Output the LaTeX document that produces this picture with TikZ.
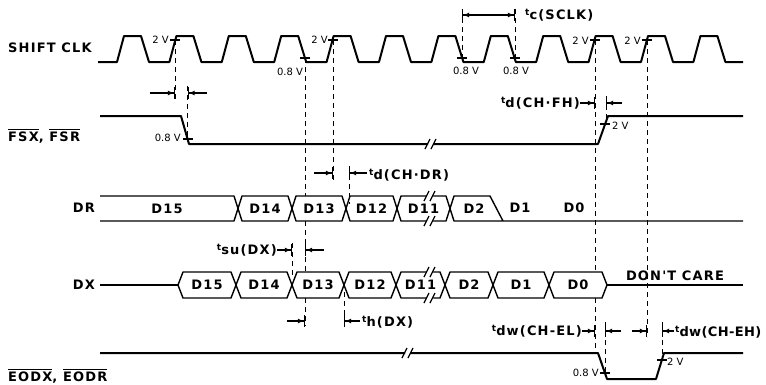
\documentclass[tikz,border=0pt]{standalone}
\usepackage{fontspec}
\newfontfamily\sigfont[LetterSpace=9]{DejaVu Sans Bold}
\newfontfamily\voltfont{DejaVu Sans}
\usetikzlibrary{arrows.meta}
\newcommand{\tpar}[1]{\raisebox{4pt}{\fontsize{9}{9}\selectfont t}#1}
\newcommand{\negsig}[1]{$\overline{\mbox{\raisebox{0pt}[11.5pt]{#1}}}$}
\begin{document}
\begin{tikzpicture}[x=1pt,y=-1pt,
	sig/.style={line width=2pt,line join=round},
	bus/.style={line width=1.4pt,line join=round},
	guide/.style={line width=0.9pt,dash pattern=on 5pt off 4pt},
	dim/.style={line width=1.2pt,-{Latex[length=6pt,width=5pt]Bar[width=12pt]}},
	vmark/.style={line width=1.2pt},
	lbl/.style={font=\sigfont\fontsize{13}{15}\selectfont,inner sep=0pt},
	volt/.style={font=\voltfont\fontsize{10}{11}\selectfont,inner sep=0pt}]
	\useasboundingbox (0,0) rectangle (766,384);
	% signal names
	\node[lbl,anchor=west] (nclk) at (8,48) {SHIFT CLK};
	\node[lbl,anchor=west] (nfs) at (8,136) {\negsig{FSX}, \negsig{FSR}};
	\node[lbl,anchor=east] (ndr) at (95,208) {DR};
	\node[lbl,anchor=east] (ndx) at (95,285) {DX};
	\node[lbl,anchor=west] (neod) at (8,376) {\negsig{EODX}, \negsig{EODR}};
	% shift clock
	\draw[sig] (98,62) \foreach \k in {0,...,11}{ -- ({117+52.4*\k},62) -- ({124+52.4*\k},36) -- ({141+52.4*\k},36) -- ({149+52.4*\k},62)} -- (743,62);
	% FSX, FSR
	\draw[sig] (100,116) -- (181,116) -- (189,144) -- (428,144) (433,144) -- (598,144) -- (608,116) -- (743,116);
	\draw[line width=1.2pt] (425,149) -- (430,139) (431,149) -- (436,139);
	% DR
	\draw[bus] (100,196) -- (234,196) -- (238,208.5) -- (234,221) -- (100,221);
	\node[lbl] (dr-D15) at (167,208.5) {D15};
	\foreach \a/\b/\n in {238/292/D14, 292/346/D13, 346/397/D12, 397/450/D11}{
		\draw[bus] (\a,208.5) -- (\a+4,196) -- (\b-4,196) -- (\b,208.5) -- (\b-4,221) -- (\a+4,221) -- cycle;
		\node[lbl] (dr-\n) at ({(\a+\b)/2},208.5) {\n};
	}
	\draw[bus] (450,208.5) -- (454,196) -- (490,196) -- (503,221) (450,208.5) -- (454,221) -- (743,221);
	\node[lbl] (dr-D2) at (474,208.5) {D2};
	\node[lbl] (dr-D1) at (520,208) {D1};
	\node[lbl] (dr-D0) at (574,208) {D0};
	\fill[white] (427,189) rectangle (433,203) (427,214) rectangle (433,228);
	\draw[line width=1.2pt] (424,201) -- (429,191) (430,201) -- (435,191) (424,226) -- (429,216) (430,226) -- (435,216);
	% DX
	\draw[bus] ([xshift=5pt]ndx.east) -- (178,285);
	\foreach \a/\b/\n in {178/236/D15, 236/292/D14, 292/344/D13, 344/396/D12, 396/445/D11, 445/493/D2, 493/549/D1, 549/607/D0}{
		\draw[bus] (\a,285) -- (\a+5,272) -- (\b-5,272) -- (\b,285) -- (\b-5,298) -- (\a+5,298) -- cycle;
		\node[lbl] (dx-\n) at ({(\a+\b)/2},285) {\n};
	}
	\draw[bus] (607,285) -- (743,285);
	\node[lbl,anchor=south] (dc) at (675,281) {DON'T CARE};
	\fill[white] (427,265) rectangle (433,279) (427,291) rectangle (433,305);
	\draw[line width=1.2pt] (424,277) -- (429,267) (430,277) -- (435,267) (424,303) -- (429,293) (430,303) -- (435,293);
	% EODX, EODR
	\draw[sig] (100,353) -- (405,353) (410,353) -- (598,353) -- (607,379) -- (656,379) -- (664,353) -- (743,353);
	\draw[line width=1.2pt] (402,358) -- (407,348) (408,358) -- (413,348);
	% threshold marks
	\foreach \x/\y in {175/40, 305/58, 333/40, 462/58, 515/58, 595/40, 647/40, 187.5/139, 605/124, 605/373, 662/360}
		\draw[vmark] (\x-5,\y) -- (\x+5,\y);
	\node[volt,anchor=east] (v1) at (169,40) {2 V};
	\node[volt] (v2) at (290,72) {0.8 V};
	\node[volt,anchor=east] (v3) at (328,40) {2 V};
	\node[volt] (v4) at (466,71) {0.8 V};
	\node[volt] (v5) at (516,71) {0.8 V};
	\node[volt,anchor=east] (v6) at (589,41) {2 V};
	\node[volt,anchor=east] (v7) at (641,41) {2 V};
	\node[volt,anchor=east] (v8) at (181,138) {0.8 V};
	\node[volt,anchor=west] (v9) at (612,126) {2 V};
	\node[volt,anchor=east] (v10) at (599,373) {0.8 V};
	\node[volt,anchor=west] (v11) at (667,362) {2 V};
	% dashed guides
	\draw[guide] (175,40) -- (175,100) (187.5,86) -- (187.5,139) (305,58) -- (305,196) (305,221) -- (305,272) (305,298) -- (305,326)
		(333,40) -- (333,180) (349,166) -- (349,204) (292,243) -- (292,278) (344,292) -- (344,327)
		(462,9) -- (462,58) (515,9) -- (515,58) (595,40) -- (595,272) (595,298) -- (595,353) (606,96) -- (606,124)
		(647,40) -- (647,337) (605,322) -- (605,373) (662,322) -- (662,360);
	% timing parameters
	\draw[dim] (150,93) -- (175,93);
	\draw[dim] (207,93) -- (187.5,93);
	\draw[line width=1.2pt,{Bar[width=12pt]Latex[length=6pt,width=5pt]}-{Latex[length=6pt,width=5pt]Bar[width=12pt]}] (462,15) -- (515,15);
	\node[lbl,anchor=west] (tc) at (525,15) {\tpar{c(SCLK)}};
	\node[lbl,anchor=east] (tfh) at (580,103) {\tpar{d(CH·FH)}};
	\draw[dim] (tfh.east) -- (595,103);
	\draw[dim] (622,103) -- (606,103);
	\draw[dim] (314,173) -- (333,173);
	\draw[dim] (367,173) -- (349,173);
	\node[lbl,anchor=west] (tdr) at (369,175) {\tpar{d(CH·DR)}};
	\node[lbl,anchor=east] (tsu) at (277,250) {\tpar{su(DX)}};
	\draw[dim] (tsu.east) -- (292,250);
	\draw[dim] (324,250) -- (305,250);
	\draw[dim] (287,321) -- (305,321);
	\draw[dim] (360,321) -- (344,321);
	\node[lbl,anchor=west] (th) at (362,322) {\tpar{h(DX)}};
	\node[lbl,anchor=east] (tel) at (582,331) {\tpar{dw(CH-EL)}};
	\draw[dim] (tel.east) -- (595,331);
	\draw[dim] (621,331) -- (605,331);
	\draw[dim] (632,331) -- (647,331);
	\draw[dim] (674,331) -- (662,331);
	\node[lbl,anchor=west] (teh) at (675,332) {\addfontfeature{LetterSpace=3}\tpar{dw(CH-EH)}};
\end{tikzpicture}
\end{document}
